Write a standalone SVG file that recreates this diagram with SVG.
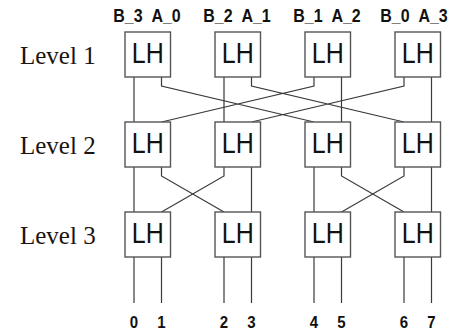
<svg xmlns="http://www.w3.org/2000/svg" width="450" height="331" viewBox="0 0 450 331">
<style>
.box{fill:#fff;stroke:#555;stroke-width:1.4}
.lh{font-family:"Liberation Sans",Arial,sans-serif;font-size:25px;fill:#111;text-anchor:middle}
.top{font-family:"Liberation Sans",Arial,sans-serif;font-size:16px;font-weight:bold;fill:#111;text-anchor:middle;word-spacing:5px}
.num{font-family:"Liberation Sans",Arial,sans-serif;font-size:15px;font-weight:bold;fill:#111;text-anchor:middle}
.lvl{font-family:"Liberation Serif","Times New Roman",serif;font-size:25px;fill:#1a1410;font-variant-numeric:oldstyle-nums}
.wire{fill:none;stroke:#3a3a3a;stroke-width:1.2}
</style>
<rect width="450" height="331" fill="#fff"/>
<g id="labels-top" transform="scale(1,1.1)">
<text class="top" x="147" y="20">B_3 A_0</text>
<text class="top" x="237" y="20">B_2 A_1</text>
<text class="top" x="327" y="20">B_1 A_2</text>
<text class="top" x="414" y="20">B_0 A_3</text>
</g>
<g id="level-labels">
<text class="lvl" x="20" y="63.5">Level 1</text>
<text class="lvl" x="20" y="153.5">Level 2</text>
<text class="lvl" x="20" y="243.5">Level 3</text>
</g>
<g id="connectors">
<path class="wire" d="M134 77V122M224 77V122M341.5 77V122M431.5 77V122"/>
<path class="wire" d="M161.5 77V86L314 122M251.5 77V86L404 122M314 77V86L161.5 122M404 77V86L251.5 122"/>
<path class="wire" d="M134 167V212M251.5 167V212M314 167V212M431.5 167V212"/>
<path class="wire" d="M161.5 167V176L224 212M224 167V176L161.5 212M341.5 167V176L404 212M404 167V176L341.5 212"/>
<path class="wire" d="M134 257V303M161.5 257V303M224 257V303M251.5 257V303M314 257V303M341.5 257V303M404 257V303M431.5 257V303"/>
</g>
<g id="n11"><rect class="box" x="125" y="32" width="45.5" height="45"/><text class="lh" x="147.75" y="52.9" transform="scale(1,1.2)">LH</text></g>
<g id="n12"><rect class="box" x="215" y="32" width="45.5" height="45"/><text class="lh" x="237.75" y="52.9" transform="scale(1,1.2)">LH</text></g>
<g id="n13"><rect class="box" x="305" y="32" width="45.5" height="45"/><text class="lh" x="327.75" y="52.9" transform="scale(1,1.2)">LH</text></g>
<g id="n14"><rect class="box" x="395" y="32" width="45.5" height="45"/><text class="lh" x="417.75" y="52.9" transform="scale(1,1.2)">LH</text></g>
<g id="n21"><rect class="box" x="125" y="122" width="45.5" height="45"/><text class="lh" x="147.75" y="127.9" transform="scale(1,1.2)">LH</text></g>
<g id="n22"><rect class="box" x="215" y="122" width="45.5" height="45"/><text class="lh" x="237.75" y="127.9" transform="scale(1,1.2)">LH</text></g>
<g id="n23"><rect class="box" x="305" y="122" width="45.5" height="45"/><text class="lh" x="327.75" y="127.9" transform="scale(1,1.2)">LH</text></g>
<g id="n24"><rect class="box" x="395" y="122" width="45.5" height="45"/><text class="lh" x="417.75" y="127.9" transform="scale(1,1.2)">LH</text></g>
<g id="n31"><rect class="box" x="125" y="212" width="45.5" height="45"/><text class="lh" x="147.75" y="202.9" transform="scale(1,1.2)">LH</text></g>
<g id="n32"><rect class="box" x="215" y="212" width="45.5" height="45"/><text class="lh" x="237.75" y="202.9" transform="scale(1,1.2)">LH</text></g>
<g id="n33"><rect class="box" x="305" y="212" width="45.5" height="45"/><text class="lh" x="327.75" y="202.9" transform="scale(1,1.2)">LH</text></g>
<g id="n34"><rect class="box" x="395" y="212" width="45.5" height="45"/><text class="lh" x="417.75" y="202.9" transform="scale(1,1.2)">LH</text></g>
<g id="labels-bottom" transform="scale(1,1.12)">
<text class="num" x="134" y="292.9">0</text>
<text class="num" x="161.5" y="292.9">1</text>
<text class="num" x="224" y="292.9">2</text>
<text class="num" x="251.5" y="292.9">3</text>
<text class="num" x="314" y="292.9">4</text>
<text class="num" x="341.5" y="292.9">5</text>
<text class="num" x="404" y="292.9">6</text>
<text class="num" x="431.5" y="292.9">7</text>
</g>
</svg>
